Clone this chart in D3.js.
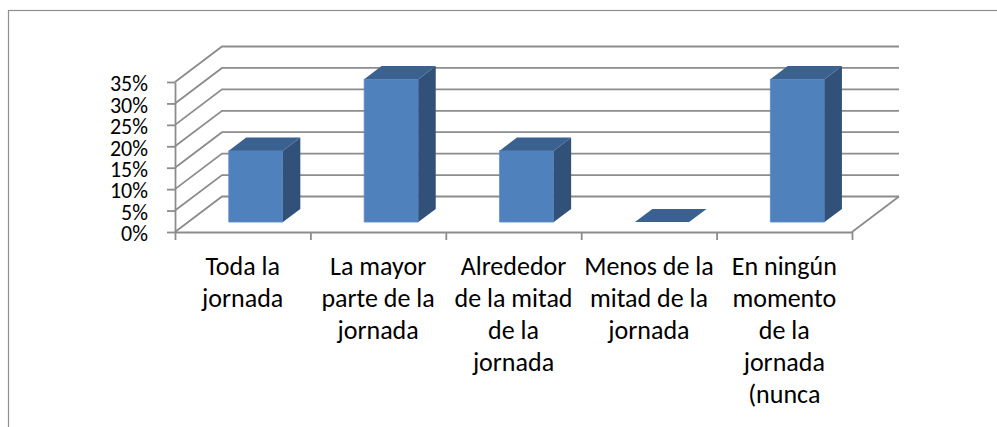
<!DOCTYPE html>
<html>
<head>
<meta charset="utf-8">
<script src="https://cdn.jsdelivr.net/npm/d3@7/dist/d3.min.js"></script>
<style>
  html, body { margin: 0; padding: 0; background: #fff; }
  svg { display: block; }
  text { font-family: Carlito, Calibri, Lato, "DejaVu Sans", sans-serif; fill: #000; }
</style>
</head>
<body>
<svg id="chart" width="997" height="427"></svg>
<script>
// Share of the working day (proportion of respondents)
const categories = [
  "Toda la\njornada",
  "La mayor\nparte de la\njornada",
  "Alrededor\nde la mitad\nde la\njornada",
  "Menos de la\nmitad de la\njornada",
  "En ningún\nmomento\nde la\njornada\n(nunca"
];
const values = [1 / 6, 2 / 6, 1 / 6, 0, 2 / 6];
const yTicks = [0, 0.05, 0.10, 0.15, 0.20, 0.25, 0.30, 0.35];

const svg = d3.select("#chart");

// Plot frame (front plane) and the oblique depth vector of the 3D box
const plotLeft = 175, plotRight = 852, plotBase = 232, plotTop = 82;
const depth = { x: 47, y: -35.5 };
const barNear = 0.28, barFar = 0.65;     // bar position inside the depth of the box

const y = d3.scaleLinear().domain([0, 0.35]).range([plotBase, plotTop]);
const band = d3.scaleBand().domain(categories).range([plotLeft, plotRight])
  .paddingInner(0.6).paddingOuter(0.3);
const slot = d3.scaleBand().domain(categories).range([plotLeft, plotRight]);
const proj = (x, yy, d) => [x + d * depth.x, yy + d * depth.y];

const gridColor = "#8c8c8c";

// Outer chart border
svg.append("rect")
  .attr("x", 8.5).attr("y", 10.5).attr("width", 1000).attr("height", 430)
  .attr("fill", "none").attr("stroke", "#8e8e8e").attr("stroke-width", 1.2);

// Walls: gridlines run along the side wall then across the back wall
const grid = svg.append("g").attr("fill", "none")
  .attr("stroke", gridColor).attr("stroke-width", 1.8);
const line = d3.line();
yTicks.forEach(t => {
  const a = [plotLeft, y(t)];
  const b = proj(plotLeft, y(t), 1);
  const c = proj(plotRight, y(t), 1);
  grid.append("path").attr("d", line([a, b, c]));
});
// Right edge of the floor
grid.append("path").attr("d", line([[plotRight, plotBase], proj(plotRight, plotBase, 1)]));

// Value axis
const yAxis = svg.append("g")
  .attr("transform", `translate(${plotLeft},0)`)
  .call(d3.axisLeft(y).tickValues(yTicks).tickSize(8).tickSizeOuter(0)
    .tickPadding(19).tickFormat(d3.format(".0%")));
yAxis.select(".domain").attr("stroke", gridColor).attr("stroke-width", 1.8);
yAxis.selectAll(".tick line").attr("stroke", gridColor).attr("stroke-width", 1.8);
yAxis.selectAll(".tick text")
  .attr("font-size", 22).attr("fill", "#000")
  .style("font-family", "Carlito, Calibri, Lato, sans-serif")
  .attr("dy", "0.4em");

// Category axis (front floor edge with separators)
const xTickScale = d3.scaleLinear().domain([0, categories.length]).range([plotLeft, plotRight]);
const xAxis = svg.append("g")
  .attr("transform", `translate(0,${plotBase})`)
  .call(d3.axisBottom(xTickScale).ticks(categories.length).tickSize(8)
    .tickSizeOuter(0).tickFormat(""));
xAxis.select(".domain").attr("stroke", gridColor).attr("stroke-width", 1.8);
xAxis.selectAll(".tick line").attr("stroke", gridColor).attr("stroke-width", 1.8);

// 3D columns
const bars = svg.append("g");
categories.forEach((c, i) => {
  const v = values[i];
  const x0 = band(c), x1 = band(c) + band.bandwidth();
  const y0 = y(0), y1 = y(v);
  const g = bars.append("g");
  if (v > 0) {
    // front face
    const p = [proj(x0, y1, barNear), proj(x1, y1, barNear), proj(x1, y0, barNear), proj(x0, y0, barNear)];
    g.append("path").attr("d", line(p) + "Z").attr("fill", "#4f81bd")
      .attr("stroke", "#5a8bc6").attr("stroke-width", 0.8);
    // side face
    const s = [proj(x1, y1, barNear), proj(x1, y1, barFar), proj(x1, y0, barFar), proj(x1, y0, barNear)];
    g.append("path").attr("d", line(s) + "Z").attr("fill", "#325179");
  }
  // top face
  const tp = [proj(x0, y1, barNear), proj(x0, y1, barFar), proj(x1, y1, barFar), proj(x1, y1, barNear)];
  g.append("path").attr("d", line(tp) + "Z").attr("fill", "#3b6190");
});

// Category labels, centred under each slot
const labels = svg.append("g").attr("text-anchor", "middle").attr("font-size", 26);
categories.forEach(c => {
  const cx = slot(c) + slot.bandwidth() / 2;
  const t = labels.append("text").attr("x", cx).attr("y", 275);
  c.split("\n").forEach((ln, k) => {
    t.append("tspan").attr("x", cx).attr("y", 275 + k * 32).text(ln);
  });
});
</script>
</body>
</html>
